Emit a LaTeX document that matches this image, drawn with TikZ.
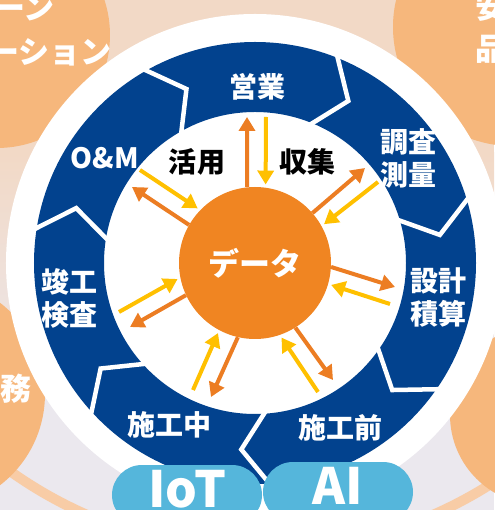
\documentclass[tikz,border=0pt]{standalone}
\usepackage{fontspec}
\newfontfamily\jpfont{Noto Sans CJK JP}
\usepackage{xcolor}
\usepackage{tikz}
\usetikzlibrary{positioning}
\usetikzlibrary{arrows.meta}
\usetikzlibrary{shapes.misc}

\definecolor{ringblue}{HTML}{02428E}
\definecolor{dataorange}{HTML}{F08522}
\definecolor{arroworange}{HTML}{EC7D23}
\definecolor{arrowyellow}{HTML}{FFC000}
\definecolor{pillblue}{HTML}{55B6DB}
\definecolor{satorange}{HTML}{F6B77C}
\definecolor{bgtop}{HTML}{F2D9C6}
\definecolor{bgbottom}{HTML}{EBE8EE}
\definecolor{orbitband}{HTML}{F8CCA6}

\begin{document}
\begin{tikzpicture}
  [
    x=1pt, y=1pt,
    phase/.style={text=white, align=center, inner sep=0pt,
      font=\jpfont\bfseries\fontsize{28}{33}\selectfont},
    talk/.style={text=black, inner sep=0pt,
      font=\jpfont\bfseries\fontsize{28}{28}\selectfont},
    satlabel/.style={text=white, inner sep=0pt,
      font=\jpfont\bfseries\fontsize{31}{31}\selectfont},
    notch/.style={draw=white, line width=4.5pt, line join=miter},
    outarr/.style={draw=arroworange, line width=4pt,
      -{Triangle[width=16pt,length=14pt]}},
    inarr/.style={draw=arrowyellow, line width=4pt, shorten >=3pt,
      -{Triangle[width=16pt,length=14pt]}},
    pill/.style={rounded rectangle, fill=pillblue, text=white,
      minimum width=150pt, minimum height=60pt, inner sep=0pt,
      text depth=12pt,
      font=\jpfont\bfseries\fontsize{50}{50}\selectfont}
  ]
  \useasboundingbox (-255,-247) rectangle (239,263);

  % background
  \fill[bgtop] (-255,110) rectangle (239,263);
  \shade[top color=bgtop, bottom color=bgbottom] (-255,-140) rectangle (239,110);
  \fill[bgbottom] (-255,-247) rectangle (239,-140);
  \draw[orbitband, line width=10pt] (5,143) circle (431);

  % outer circles
  \fill[satorange] (-258,228) circle (113);
  \fill[satorange] (257,236) circle (119);
  \fill[satorange] (-325,-131) circle (115);
  \fill[satorange] (285,-152) circle (90);

  \node (satA1) at (-200,255) [satlabel, anchor=east] {ーン};
  \node (satA2) at (-143,211) [satlabel, anchor=east] {ーション};
  \node (satB1) at (236,256) [satlabel] {安};
  \node (satB2) at (236,214) [satlabel] {品};
  \node (satC)  at (-239,-126) [satlabel] {務};

  % ring
  \fill[white] (0,0) circle (249);
  \fill[ringblue, even odd rule] (0,0) circle (221) (0,0) circle (151);

  \draw[notch] (120:224)    -- (111.5:187)  -- (120:148);
  \draw[notch] (68.57:224)  -- (60.07:187)  -- (68.57:148);
  \draw[notch] (17.14:224)  -- (8.64:187)   -- (17.14:148);
  \draw[notch] (-34.29:224) -- (-42.79:187) -- (-34.29:148);
  \draw[notch] (-85.71:224) -- (-94.21:187) -- (-85.71:148);
  \draw[notch] (-137.14:224) -- (-145.64:187) -- (-137.14:148);
  \draw[notch] (171.43:224) -- (162.93:187) -- (171.43:148);

  \node (eigyo)  at (2,176)     [phase] {営業};
  \node (chosa)  at (153,105)   [phase] {調査\\測量};
  \node (sekkei) at (183,-35)   [phase] {設計\\積算};
  \node (mae)    at (85,-165)   [phase] {施工前};
  \node (naka)   at (-85,-162)  [phase] {施工中};
  \node (kanko)  at (-185,-35)  [phase] {竣工\\検査};
  \node (om)     at (-150,105)  [phase] {O\&M};

  % data in the middle
  \node (data) at (0,0) [circle, fill=dataorange, minimum size=152pt,
    inner sep=0pt, text=white,
    font=\jpfont\bfseries\fontsize{31}{31}\selectfont] {データ};

  \node (katsuyo) at (-58,101) [talk] {活用};
  \node (shushu)  at (52,101)  [talk] {収集};

  \coordinate (o1) at (-8,146);
  \coordinate (o2) at (110,95);
  \coordinate (o3) at (140,-24);
  \coordinate (o4) at (78,-117);
  \coordinate (o5) at (-44,-134);
  \coordinate (o6) at (-125,-64);
  \coordinate (o7) at (-123,76);

  \coordinate (y1) at (11,146);
  \coordinate (y2) at (123,81);
  \coordinate (y3) at (135,-41);
  \coordinate (y4) at (63,-129);
  \coordinate (y5) at (-62,-127);
  \coordinate (y6) at (-136,-49);
  \coordinate (y7) at (-115,93);

  \draw[outarr] (data.96)     -- (o1);
  \draw[outarr] (data.41.5)   -- (o2);
  \draw[outarr] (data.-3)     -- (o3);
  \draw[outarr] (data.-58.4)  -- (o4);
  \draw[outarr] (data.-103.5) -- (o5);
  \draw[outarr] (data.-155.4) -- (o6);
  \draw[outarr] (data.150.3)  -- (o7);

  \draw[inarr] (y1) -- (data.82);
  \draw[inarr] (y2) -- (data.29.7);
  \draw[inarr] (y3) -- (data.-16.8);
  \draw[inarr] (y4) -- (data.-71.3);
  \draw[inarr] (y5) -- (data.-118.3);
  \draw[inarr] (y6) -- (data.-169.1);
  \draw[inarr] (y7) -- (data.136);

  % tags at the bottom
  \node (iot) at (-68,-232) [pill] {IoT};
  \node (ai)  at (83,-229)  [pill] {AI};
\end{tikzpicture}
\end{document}
